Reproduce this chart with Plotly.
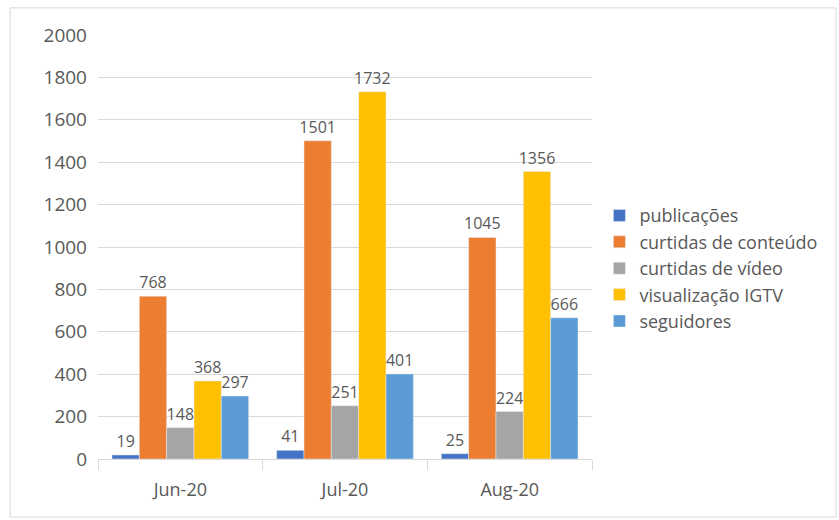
import plotly.graph_objects as go

months = ["Jun-20", "Jul-20", "Aug-20"]
series_names = ["publicações", "curtidas de conteúdo", "curtidas de vídeo",
                "visualização IGTV", "seguidores"]
publicacoes = [19, 41, 25]
curtidas_conteudo = [768, 1501, 1045]
curtidas_video = [148, 251, 224]
visualizacao_igtv = [368, 1732, 1356]
seguidores = [297, 401, 666]
y_ticks = [0, 200, 400, 600, 800, 1000, 1200, 1400, 1600, 1800, 2000]

colors = ["#4472C4", "#ED7D31", "#A5A5A5", "#FFC000", "#5B9BD5"]
values = [publicacoes, curtidas_conteudo, curtidas_video, visualizacao_igtv, seguidores]

FONT = "Open Sans"
TEXT_COLOR = "#595959"

fig = go.Figure()
for name, vals, col in zip(series_names, values, colors):
    fig.add_trace(go.Bar(
        name=name, x=months, y=vals, marker_color=col,
        text=[str(v) for v in vals], textposition="outside",
        constraintext="none",
        textfont=dict(family=FONT, size=16, color=TEXT_COLOR),
        cliponaxis=False,
    ))

fig.update_layout(
    width=839, height=520,
    margin=dict(l=98, r=247, t=35, b=61),
    paper_bgcolor="white", plot_bgcolor="white",
    barmode="group", bargap=0.17, bargroupgap=0,
    font=dict(family=FONT, color=TEXT_COLOR),
    legend=dict(x=1.015, y=0.45, xanchor="left", yanchor="middle",
                font=dict(family=FONT, size=18, color=TEXT_COLOR),
                bgcolor="rgba(0,0,0,0)"),
    xaxis=dict(type="category", tickson="boundaries", ticks="outside", ticklen=10,
               tickcolor="#D9D9D9", showline=True, linecolor="#D9D9D9", linewidth=1,
               showgrid=False, ticklabelstandoff=14,
               tickfont=dict(family=FONT, size=18, color=TEXT_COLOR)),
    yaxis=dict(range=[0, 2000], tickvals=y_ticks, showgrid=True, gridcolor="#D9D9D9",
               zeroline=False, showline=False, ticks="", ticklabelstandoff=10,
               tickfont=dict(family=FONT, size=19, color=TEXT_COLOR)),
    shapes=[dict(type="rect", xref="paper", yref="paper",
                 x0=-0.178, x1=1.494, y0=-0.137, y1=1.064,
                 line=dict(color="#D9D9D9", width=1), layer="below")],
)

fig.write_html("out.html")
